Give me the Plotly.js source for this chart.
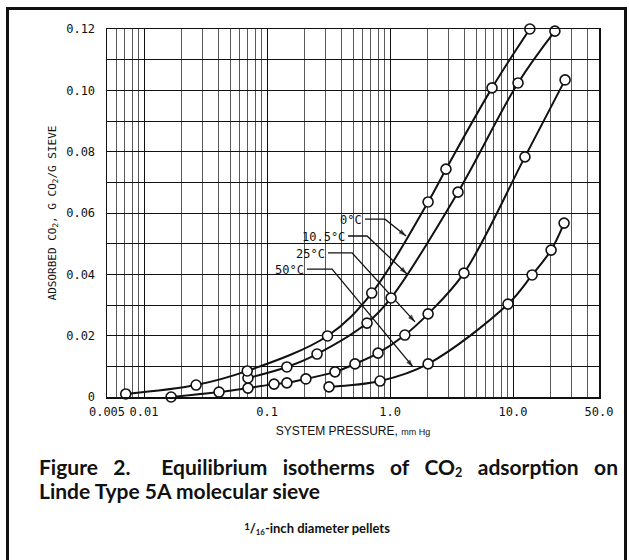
<!DOCTYPE html>
<html>
<head>
<meta charset="utf-8">
<script src="https://cdn.plot.ly/plotly-3.0.1.min.js"></script>
<style>
  html, body { margin: 0; padding: 0; background: #fff; }
  #wrap { position: relative; width: 629px; height: 560px; overflow: hidden; background: #fff; }
  #chart { position: absolute; left: 0; top: 0; width: 629px; height: 560px; }
  #frame { position: absolute; left: 6px; top: 7px; width: 621px; height: 600px;
           border: 3px solid #111; box-sizing: border-box; pointer-events: none; }
  .cap { position: absolute; font-family: Lato, "Noto Sans", sans-serif; font-weight: 700; color: #111; }
  #cap1 { left: 39px; top: 455px; width: 579px; font-size: 21px; line-height: 24px;
          text-align: justify; text-align-last: justify; white-space: normal; }
  #cap2 { left: 39px; top: 479px; font-size: 21px; line-height: 24px; }
  #cap3 { left: 0; width: 634px; top: 520px; font-size: 13px; text-align: center; }
  sub.s { font-size: 0.6em; vertical-align: -0.15em; }
  sup.s { font-size: 0.75em; vertical-align: 0.35em; }
</style>
</head>
<body>
<div id="wrap">
  <div id="chart"></div>
  <div id="frame"></div>
  <div class="cap" id="cap1">Figure 2.&nbsp; Equilibrium isotherms of CO<sub class="s">2</sub> adsorption on</div>
  <div class="cap" id="cap2">Linde Type 5A molecular sieve</div>
  <div class="cap" id="cap3"><sup class="s">1</sup>/<sub class="s">16</sub>-inch diameter pellets</div>
</div>
<script>
// Equilibrium CO2 loading (g CO2 / g sieve) against system pressure (mm Hg)
const pressure0C   = [0.0071, 0.0265, 0.069, 0.31, 0.71, 2.04, 2.85, 6.75, 13.7];
const adsorbed0C   = [0.001, 0.0039, 0.0085, 0.0199, 0.0339, 0.0636, 0.0743, 0.1008, 0.1200];

const pressure10C  = [0.070, 0.145, 0.255, 0.650, 1.02, 3.57, 10.98, 21.9];
const adsorbed10C  = [0.0062, 0.0098, 0.0140, 0.0241, 0.0323, 0.0668, 0.1024, 0.1193];

const pressure25C  = [0.0166, 0.0407, 0.070, 0.114, 0.145, 0.207, 0.357, 0.519, 0.799, 1.32, 2.04, 3.99, 12.5, 26.5];
const adsorbed25C  = [0.0000, 0.0016, 0.0029, 0.0042, 0.0046, 0.0059, 0.0082, 0.0108, 0.0143, 0.0202, 0.0271, 0.0404, 0.0783, 0.1034];

const pressure50C  = [0.319, 0.829, 2.04, 9.10, 14.3, 20.4, 26.0];
const adsorbed50C  = [0.0033, 0.0052, 0.0108, 0.0303, 0.0398, 0.0479, 0.0567];

// Axis ticks
const xTickVals  = [0.005, 0.01, 0.1, 1, 10, 50];
const xTickText  = ['0.005', '0.01', '0.1', '1.0', '10.0', '50.0'];
const yTickVals  = [0, 0.02, 0.04, 0.06, 0.08, 0.10, 0.12];
const yTickText  = ['0', '0.02', '0.04', '0.06', '0.08', '0.10', '0.12'];

// Isotherm labels: text end, leader elbow and arrow tip (pressure, loading)
const isothermLabels = [
  { text: '0°C',    textX: 0.626, elbowX: 0.91,  lineY: 0.0580, tipX: 1.35,  tipY: 0.0525 },
  { text: '10.5°C', textX: 0.455, elbowX: 0.650, lineY: 0.0525, tipX: 1.374, tipY: 0.0401 },
  { text: '25°C',   textX: 0.313, elbowX: 0.491, lineY: 0.0470, tipX: 1.596, tipY: 0.0245 },
  { text: '50°C',   textX: 0.211, elbowX: 0.338, lineY: 0.0417, tipX: 1.538, tipY: 0.0098 }
];

const INK = '#111';
const MONO = 'DejaVu Sans Mono, monospace';
const L = Math.log10;

function isotherm(x, y) {
  return {
    x: x, y: y, type: 'scatter', mode: 'lines+markers', cliponaxis: false,
    line: { shape: 'spline', smoothing: 1, color: INK, width: 2 },
    marker: { symbol: 'circle', size: 10, color: '#fff', line: { color: INK, width: 1.6 } },
    showlegend: false, hoverinfo: 'skip'
  };
}

// bent leader: label end -> elbow -> arrowhead on the curve
function leader(o) {
  return {
    x: [o.textX, o.elbowX, o.tipX], y: [o.lineY, o.lineY, o.tipY],
    type: 'scatter', mode: 'lines+markers',
    line: { color: INK, width: 1.3 },
    marker: { symbol: 'arrow', size: [0, 0, 8], angleref: 'previous', color: INK, line: { width: 0 } },
    showlegend: false, hoverinfo: 'skip'
  };
}

const traces = isothermLabels.map(leader).concat([
  isotherm(pressure50C, adsorbed50C),
  isotherm(pressure25C, adsorbed25C),
  isotherm(pressure10C, adsorbed10C),
  isotherm(pressure0C, adsorbed0C)
]);

// log-paper rulings: 2..9 within each decade
const xMinor = [];
[0.001, 0.01, 0.1, 1, 10].forEach(d => {
  for (let k = 2; k <= 9; k++) {
    const v = +(d * k).toPrecision(3);
    if (v > 0.005 && v < 50) xMinor.push(v);
  }
});
const yMinor = [0.01, 0.03, 0.05, 0.07, 0.09, 0.11];

const annotations = isothermLabels.map(o => ({
  x: L(o.textX), y: o.lineY, xref: 'x', yref: 'y', text: o.text, showarrow: false,
  xanchor: 'right', yanchor: 'middle', xshift: -1, yshift: -1,
  font: { family: MONO, size: 12, color: INK }
}));

const layout = {
  width: 629, height: 560,
  margin: { l: 107, r: 30, t: 29, b: 163, pad: 0 },
  paper_bgcolor: 'rgba(0,0,0,0)', plot_bgcolor: '#fff',
  xaxis: {
    type: 'log', range: [L(0.005), L(50)],
    tickmode: 'array', tickvals: xTickVals, ticktext: xTickText,
    ticks: '', ticklabelstandoff: 3,
    tickfont: { family: MONO, size: 12, color: INK },
    showgrid: true, gridcolor: INK, gridwidth: 1,
    minor: { tickmode: 'array', tickvals: xMinor, showgrid: true, gridcolor: '#5a5a5a', gridwidth: 1, ticks: '' },
    showline: true, mirror: true, linecolor: INK, linewidth: 1.5, zeroline: false,
    title: { text: 'SYSTEM PRESSURE, <span style="font-size:9px">mm Hg</span>',
             font: { family: 'Liberation Sans, Arial, sans-serif', size: 12, color: INK }, standoff: 8 }
  },
  yaxis: {
    range: [0, 0.12],
    tickmode: 'array', tickvals: yTickVals, ticktext: yTickText,
    ticks: '', ticklabelstandoff: 8,
    tickfont: { family: MONO, size: 12, color: INK },
    showgrid: true, gridcolor: INK, gridwidth: 1,
    minor: { tickmode: 'array', tickvals: yMinor, showgrid: true, gridcolor: INK, gridwidth: 1, ticks: '' },
    showline: true, mirror: true, linecolor: INK, linewidth: 1.5, zeroline: false,
    title: { text: 'ADSORBED CO<sub>2</sub>, G CO<sub>2</sub>/G SIEVE',
             font: { family: MONO, size: 11, color: INK }, standoff: 7 }
  },
  annotations: annotations,
  showlegend: false
};

Plotly.newPlot('chart', traces, layout, { staticPlot: true, displayModeBar: false });
</script>
</body>
</html>
